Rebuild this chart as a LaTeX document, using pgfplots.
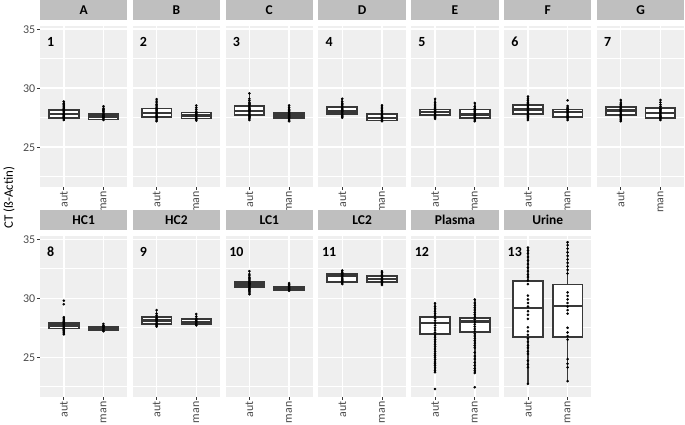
\documentclass[border=0pt]{standalone}
\usepackage{fontspec}
\setmainfont{Carlito}
\usepackage{pgfplots}
\pgfplotsset{compat=1.18}
\usepgfplotslibrary{groupplots}
\definecolor{panelbg}{HTML}{EFEFEF}
\definecolor{stripbg}{HTML}{BFBFBF}
\definecolor{boxc}{HTML}{383838}
\definecolor{labc}{HTML}{4D4D4D}
% box: left, centre, right, lower whisker, q1, median, q3, upper whisker
\newcommand{\bx}[8]{%
\addplot[draw=boxc, line width=1.6bp] coordinates {(#2,#4)(#2,#5)};
\addplot[draw=boxc, line width=1.6bp] coordinates {(#2,#7)(#2,#8)};
\addplot[draw=boxc, fill=white, line width=1.8bp] coordinates {(#1,#5)(#3,#5)(#3,#7)(#1,#7)} -- cycle;
\addplot[draw=boxc, line width=2.4bp] coordinates {(#1,#6)(#3,#6)};
}
\newcommand{\ba}{\bx{0.625}{1}{1.375}}
\newcommand{\bm}{\bx{1.625}{2}{2.375}}
\newcommand{\pn}[1]{\node[font=\bfseries\fontsize{14}{14}\selectfont, inner sep=0pt] at (axis cs:0.67,33.95) {#1};}
\pgfplotsset{dots/.style={only marks, mark=*, mark size=1.1bp, draw=black, fill=black},
  noyt/.style={ytick style={draw=none}}}
\begin{document}
\begin{tikzpicture}
\begin{groupplot}[
 group style={group size=7 by 2, horizontal sep=5.5bp, vertical sep=49bp, yticklabels at=edge left},
 width=87.3bp, height=161bp, scale only axis,
 xmin=0.4, xmax=2.6, ymin=21.65, ymax=35.3,
 axis background/.style={fill=panelbg},
 axis line style={draw=none},
 xtick={1,2}, xticklabels={aut,man},
 ytick={25,30,35}, minor ytick={22.5,27.5,32.5},
 xmajorgrids, ymajorgrids, yminorgrids,
 major grid style={white, line width=1.5bp},
 minor grid style={white, line width=0.8bp},
 tick align=outside, tick pos=left,
 major tick length=3bp, minor tick length=0bp,
 tick style={draw=boxc, line width=0.6bp},
 xticklabel style={rotate=90, anchor=east, font=\fontsize{12}{12}\selectfont, text=labc, inner sep=1.5bp},
 yticklabel style={font=\fontsize{12}{12}\selectfont, text=labc, inner sep=1.5bp},
 /pgf/number format/assume math mode=true,
 title style={at={(0.5,1)}, anchor=south, yshift=0pt, fill=stripbg, minimum width=87.3bp, minimum height=19.5bp, inner sep=0pt, font=\bfseries\fontsize{13.5}{14}\selectfont},
]
% A
\nextgroupplot[title=A]
\ba{27.26}{27.46}{27.8}{28.16}{28.87}
\bm{27.3}{27.35}{27.6}{27.82}{28.47}
\addplot[dots] coordinates {(1,27.3)(1,27.4)(1,27.5)(1,27.55)(1,27.6)(1,27.7)(1,27.75)(1,27.8)(1,27.9)(1,28.0)(1,28.1)(1,28.2)(1,28.3)(1,28.4)(1,28.5)(1,28.6)(1,28.7)(1,28.87)};
\addplot[dots] coordinates {(2,27.3)(2,27.4)(2,27.5)(2,27.55)(2,27.6)(2,27.7)(2,27.8)(2,27.9)(2,28.0)(2,28.1)(2,28.2)(2,28.3)(2,28.47)};
\pn{1}
% B
\nextgroupplot[title=B, noyt]
\ba{27.2}{27.54}{27.9}{28.28}{29.07}
\bm{27.25}{27.43}{27.7}{27.94}{28.53}
\addplot[dots] coordinates {(1,27.2)(1,27.3)(1,27.4)(1,27.5)(1,27.6)(1,27.7)(1,27.8)(1,27.9)(1,28.0)(1,28.1)(1,28.2)(1,28.3)(1,28.4)(1,28.5)(1,28.6)(1,28.75)(1,28.9)(1,29.07)};
\addplot[dots] coordinates {(2,27.25)(2,27.35)(2,27.45)(2,27.55)(2,27.65)(2,27.75)(2,27.85)(2,27.95)(2,28.05)(2,28.2)(2,28.35)(2,28.53)};
\pn{2}
% C
\nextgroupplot[title=C, noyt]
\ba{27.3}{27.7}{28.07}{28.52}{29.56}
\bm{27.2}{27.47}{27.7}{27.9}{28.55}
\addplot[dots] coordinates {(1,27.3)(1,27.4)(1,27.5)(1,27.6)(1,27.7)(1,27.8)(1,27.9)(1,28.0)(1,28.1)(1,28.2)(1,28.3)(1,28.4)(1,28.5)(1,28.6)(1,28.7)(1,28.8)(1,28.95)(1,29.1)(1,29.56)};
\addplot[dots] coordinates {(2,27.2)(2,27.3)(2,27.4)(2,27.5)(2,27.6)(2,27.7)(2,27.8)(2,27.9)(2,28.0)(2,28.1)(2,28.2)(2,28.35)(2,28.55)};
\pn{3}
% D
\nextgroupplot[title=D, noyt]
\ba{27.5}{27.8}{28.04}{28.4}{29.1}
\bm{27.2}{27.27}{27.5}{27.84}{28.55}
\addplot[dots] coordinates {(1,27.5)(1,27.6)(1,27.7)(1,27.8)(1,27.9)(1,28.0)(1,28.1)(1,28.2)(1,28.3)(1,28.4)(1,28.5)(1,28.6)(1,28.7)(1,28.85)(1,29.1)};
\addplot[dots] coordinates {(2,27.2)(2,27.3)(2,27.4)(2,27.5)(2,27.6)(2,27.7)(2,27.8)(2,27.9)(2,28.0)(2,28.1)(2,28.25)(2,28.4)(2,28.55)};
\pn{4}
% E
\nextgroupplot[title=E, noyt]
\ba{27.4}{27.7}{28.0}{28.2}{29.1}
\bm{27.2}{27.46}{27.78}{28.2}{28.75}
\addplot[dots] coordinates {(1,27.4)(1,27.5)(1,27.6)(1,27.7)(1,27.8)(1,27.9)(1,28.0)(1,28.1)(1,28.2)(1,28.3)(1,28.4)(1,28.5)(1,28.65)(1,28.8)(1,29.1)};
\addplot[dots] coordinates {(2,27.2)(2,27.3)(2,27.4)(2,27.5)(2,27.6)(2,27.7)(2,27.8)(2,27.9)(2,28.0)(2,28.1)(2,28.2)(2,28.3)(2,28.45)(2,28.75)};
\pn{5}
% F
\nextgroupplot[title=F, noyt]
\ba{27.3}{27.84}{28.2}{28.55}{29.3}
\bm{27.3}{27.57}{28.0}{28.2}{28.5}
\addplot[dots] coordinates {(1,27.3)(1,27.4)(1,27.5)(1,27.6)(1,27.7)(1,27.8)(1,27.9)(1,28.0)(1,28.1)(1,28.2)(1,28.3)(1,28.4)(1,28.5)(1,28.6)(1,28.7)(1,28.8)(1,28.95)(1,29.1)(1,29.3)};
\addplot[dots] coordinates {(2,27.3)(2,27.4)(2,27.5)(2,27.6)(2,27.7)(2,27.8)(2,27.9)(2,28.0)(2,28.1)(2,28.2)(2,28.3)(2,28.4)(2,28.5)(2,28.97)};
\pn{6}
% G
\nextgroupplot[title=G, noyt]
\ba{27.2}{27.75}{28.1}{28.38}{29.0}
\bm{27.3}{27.5}{27.9}{28.3}{29.0}
\addplot[dots] coordinates {(1,27.2)(1,27.3)(1,27.4)(1,27.5)(1,27.6)(1,27.7)(1,27.8)(1,27.9)(1,28.0)(1,28.1)(1,28.2)(1,28.3)(1,28.4)(1,28.5)(1,28.6)(1,28.75)(1,29.0)};
\addplot[dots] coordinates {(2,27.3)(2,27.4)(2,27.5)(2,27.6)(2,27.7)(2,27.8)(2,27.9)(2,28.0)(2,28.1)(2,28.2)(2,28.3)(2,28.45)(2,28.6)(2,28.8)(2,29.0)};
\pn{7}
% HC1
\nextgroupplot[title=HC1]
\ba{26.94}{27.44}{27.68}{27.92}{28.4}
\bm{27.2}{27.27}{27.44}{27.6}{27.83}
\addplot[dots] coordinates {(1,26.94)(1,27.05)(1,27.15)(1,27.25)(1,27.35)(1,27.45)(1,27.55)(1,27.65)(1,27.75)(1,27.85)(1,27.95)(1,28.05)(1,28.15)(1,28.25)(1,28.4)(1,29.5)(1,29.8)};
\addplot[dots] coordinates {(2,27.2)(2,27.3)(2,27.4)(2,27.5)(2,27.6)(2,27.7)(2,27.83)};
\pn{8}
% HC2
\nextgroupplot[title=HC2, noyt]
\ba{27.6}{27.83}{28.1}{28.42}{29.0}
\bm{27.7}{27.83}{28.0}{28.25}{28.67}
\addplot[dots] coordinates {(1,27.6)(1,27.7)(1,27.8)(1,27.9)(1,28.0)(1,28.1)(1,28.2)(1,28.3)(1,28.4)(1,28.55)(1,28.7)(1,29.0)};
\addplot[dots] coordinates {(2,27.7)(2,27.8)(2,27.9)(2,28.0)(2,28.1)(2,28.2)(2,28.3)(2,28.45)(2,28.67)};
\pn{9}
% LC1
\nextgroupplot[title=LC1, noyt]
\ba{30.34}{30.98}{31.18}{31.41}{32.3}
\bm{30.63}{30.72}{30.83}{30.98}{31.29}
\addplot[dots] coordinates {(1,30.34)(1,30.45)(1,30.55)(1,30.65)(1,30.75)(1,30.85)(1,30.95)(1,31.05)(1,31.15)(1,31.25)(1,31.35)(1,31.45)(1,31.55)(1,31.65)(1,31.75)(1,31.9)(1,32.05)(1,32.3)};
\addplot[dots] coordinates {(2,30.63)(2,30.72)(2,30.8)(2,30.88)(2,30.96)(2,31.05)(2,31.15)(2,31.29)};
\pn{10}
% LC2
\nextgroupplot[title=LC2, noyt]
\ba{31.2}{31.35}{31.87}{32.07}{32.36}
\bm{31.12}{31.38}{31.64}{31.87}{32.3}
\addplot[dots] coordinates {(1,31.2)(1,31.3)(1,31.4)(1,31.5)(1,31.6)(1,31.7)(1,31.8)(1,31.9)(1,32.0)(1,32.1)(1,32.2)(1,32.36)};
\addplot[dots] coordinates {(2,31.12)(2,31.22)(2,31.32)(2,31.42)(2,31.52)(2,31.62)(2,31.72)(2,31.82)(2,31.92)(2,32.05)(2,32.18)(2,32.3)};
\pn{11}
% Plasma
\nextgroupplot[title=Plasma, noyt]
\ba{23.73}{26.97}{27.9}{28.39}{29.58}
\bm{23.67}{27.12}{28.02}{28.3}{29.9}
\addplot[dots] coordinates {(1,22.31)(1,23.73)(1,23.9)(1,24.1)(1,24.3)(1,24.45)(1,24.6)(1,24.8)(1,25.0)(1,25.15)(1,25.3)(1,25.5)(1,25.7)(1,25.9)(1,26.1)(1,26.3)(1,26.5)(1,26.7)(1,26.9)(1,27.1)(1,27.3)(1,27.5)(1,27.7)(1,27.9)(1,28.1)(1,28.3)(1,28.5)(1,28.7)(1,28.9)(1,29.1)(1,29.3)(1,29.58)};
\addplot[dots] coordinates {(2,22.46)(2,23.67)(2,23.85)(2,24.05)(2,24.3)(2,24.55)(2,24.85)(2,25.1)(2,25.4)(2,25.8)(2,26.0)(2,26.2)(2,26.4)(2,26.6)(2,26.8)(2,27.0)(2,27.2)(2,27.4)(2,27.6)(2,27.8)(2,28.0)(2,28.2)(2,28.4)(2,28.6)(2,28.8)(2,29.0)(2,29.2)(2,29.4)(2,29.6)(2,29.9)};
\pn{12}
% Urine
\nextgroupplot[title=Urine, noyt]
\ba{22.74}{26.75}{29.2}{31.47}{34.3}
\bm{22.97}{26.69}{29.35}{31.16}{34.75}
\addplot[dots] coordinates {(1,22.74)(1,24.15)(1,24.4)(1,24.72)(1,25.28)(1,25.5)(1,25.8)(1,26.0)(1,26.3)(1,26.6)(1,26.9)(1,27.2)(1,27.54)(1,28.25)(1,28.6)(1,28.9)(1,29.3)(1,29.6)(1,29.9)(1,30.23)(1,31.2)(1,31.5)(1,31.8)(1,32.0)(1,32.3)(1,32.6)(1,32.9)(1,33.2)(1,33.5)(1,33.8)(1,34.05)(1,34.3)};
\addplot[dots] coordinates {(2,22.97)(2,24.15)(2,24.45)(2,24.85)(2,26.5)(2,26.8)(2,27.1)(2,27.5)(2,28.7)(2,29.0)(2,29.3)(2,29.6)(2,29.9)(2,30.2)(2,30.5)(2,32.1)(2,32.4)(2,32.7)(2,33.0)(2,33.3)(2,33.6)(2,33.9)(2,34.2)(2,34.5)(2,34.75)};
\pn{13}
\end{groupplot}
\node[rotate=90, font=\fontsize{13}{13}\selectfont] at ([xshift=-31bp, yshift=-172bp]group c1r1.north west) {CT (ß-Actin)};
\end{tikzpicture}
\end{document}
